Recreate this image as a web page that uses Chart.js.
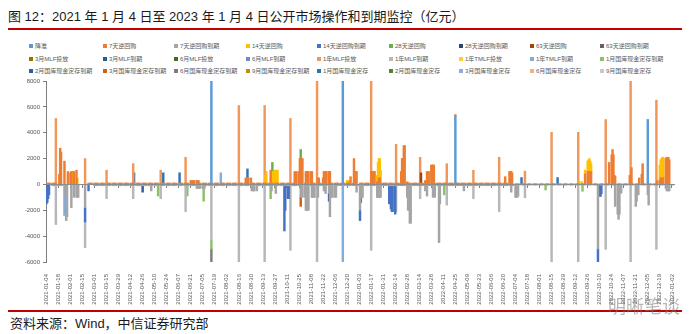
<!DOCTYPE html>
<html>
<head>
<meta charset="utf-8">
<script src="https://cdn.jsdelivr.net/npm/chart.js@4.4.1/dist/chart.umd.min.js"></script>
<style>
  body { margin: 0; background: #fff; }
  #wrap { position: relative; width: 700px; height: 334px; overflow: hidden; font-family: "Liberation Sans", "Noto Sans CJK SC", sans-serif; }
  #title { position: absolute; left: 8px; top: 9px; font-size: 13px; line-height: 15px; color: #1a1a1a; white-space: nowrap; }
  .rule { position: absolute; left: 8px; width: 674px; height: 2px; background: #c00000; }
  .item { position: absolute; font-size: 6px; line-height: 8px; color: #595959; white-space: nowrap; }
  .item i { display: inline-block; width: 4px; height: 4px; margin-right: 2px; vertical-align: 0; }
  #chart { position: absolute; left: 0; top: 74px; }
  #source { position: absolute; left: 10px; top: 316px; font-size: 13px; line-height: 15px; color: #1a1a1a; white-space: nowrap; }
  #mark { position: absolute; left: 608px; top: 292px; font-size: 18px; color: rgba(120,120,120,0.55); white-space: nowrap; }
</style>
</head>
<body>
<div id="wrap">
  <div id="title">图 12：2021 年 1 月 4 日至 2023 年 1 月 4 日公开市场操作和到期监控（亿元）</div>
  <div class="rule" style="top:28px"></div>
  <div id="legend"></div>
  <canvas id="chart" width="700" height="234"></canvas>
  <div class="rule" style="top:310px"></div>
  <div id="source">资料来源：Wind，中信证券研究部</div>
  <div id="mark">明晰笔谈</div>
</div>
<script>
// series, in legend order
const seriesNames = [
  '降准', '7天逆回购', '7天逆回购到期', '14天逆回购', '14天逆回购到期', '28天逆回购', '28天逆回购到期', '63天逆回购', '63天逆回购到期',
  '3月MLF投放', '3月MLF到期', '6月MLF投放', '6月MLF到期', '1年MLF投放', '1年MLF到期', '1年TMLF投放', '1年TMLF到期', '1月国库现金定存到期',
  '2月国库现金定存到期', '3月国库现金定存到期', '6月国库现金定存到期', '9月国库现金定存到期', '1月国库现金定存', '2月国库现金定存', '3月国库现金定存', '6月国库现金定存', '9月国库现金定存'
];
const seriesColors = [
  '#5B9BD5', '#ED7D31', '#A5A5A5', '#FFC000', '#4472C4', '#70AD47', '#264478', '#9E480E', '#636363',
  '#997300', '#255E91', '#43682B', '#698ED0', '#F1975A', '#B7B7B7', '#FFCD33', '#7CAFDD', '#8CC168',
  '#335AA1', '#D26012', '#7C7C7C', '#BF9000', '#2E75B6', '#548235', '#8FAADC', '#F4B183', '#C9C9C9'
];

// ordinary daily 7-day operations on trading days: [from, to, amount]
const repo7Runs = [
  ['2021-01-04', '2021-01-15', 100], ['2021-02-22', '2021-12-31', 100], ['2022-01-04', '2022-06-30', 100],
  ['2022-07-01', '2022-09-16', 30], ['2022-09-19', '2022-12-30', 20]
];
const repo7MatRuns = [
  ['2021-01-11', '2021-01-22', -100], ['2021-03-01', '2022-01-07', -100], ['2022-01-10', '2022-07-07', -100],
  ['2022-07-08', '2022-09-23', -30], ['2022-09-26', '2023-01-04', -20]
];

const rrrCut = [['2021-07-15', 10000], ['2021-12-15', 12000], ['2022-04-25', 5300], ['2022-12-05', 5000]];

const repo7 = [
  ['2021-01-19', 800], ['2021-01-20', 2800], ['2021-01-21', 2500], ['2021-01-25', 1800], ['2021-01-29', 1000],
  ['2021-02-01', 900], ['2021-02-02', 1000], ['2021-02-05', 1000], ['2021-02-08', 1100],
  ['2021-06-21', 300], ['2021-06-22', 300], ['2021-06-23', 300], ['2021-06-24', 300], ['2021-06-25', 300],
  ['2021-06-28', 300], ['2021-06-29', 300], ['2021-06-30', 300],
  ['2021-08-24', 500], ['2021-08-25', 500], ['2021-08-26', 500], ['2021-08-27', 500], ['2021-08-30', 500],
  ['2021-09-22', 1100], ['2021-10-20', 1000], ['2021-10-22', 1000], ['2021-10-25', 1000],
  ['2021-10-26', 2000], ['2021-10-27', 2000], ['2021-10-28', 2000], ['2021-10-29', 2000],
  ['2021-11-02', 1000], ['2021-11-03', 1000], ['2021-11-04', 1000], ['2021-11-05', 1000], ['2021-11-08', 1000], ['2021-11-09', 1000],
  ['2021-11-16', 500], ['2021-11-17', 500], ['2021-11-22', 500],
  ['2021-11-23', 1000], ['2021-11-24', 1000], ['2021-11-25', 1000], ['2021-11-26', 1000], ['2021-11-29', 1000], ['2021-11-30', 1000],
  ['2021-12-24', 600], ['2021-12-28', 2000], ['2021-12-29', 1000], ['2021-12-30', 1000], ['2021-12-31', 1000],
  ['2022-01-17', 1000], ['2022-01-18', 1000], ['2022-01-19', 1000], ['2022-01-20', 1000], ['2022-01-21', 1000],
  ['2022-01-24', 200], ['2022-01-25', 200], ['2022-01-26', 500], ['2022-01-27', 500],
  ['2022-02-21', 1000], ['2022-02-22', 2000], ['2022-02-23', 2000], ['2022-02-24', 3000], ['2022-02-25', 3000], ['2022-02-28', 200],
  ['2022-03-21', 300], ['2022-03-22', 200], ['2022-03-23', 1000], ['2022-03-25', 1000],
  ['2022-03-28', 1500], ['2022-03-29', 1500], ['2022-03-30', 1500], ['2022-03-31', 1500],
  ['2022-06-22', 600], ['2022-06-27', 1000], ['2022-06-28', 1000], ['2022-06-29', 1000], ['2022-06-30', 900],
  ['2022-09-23', 800], ['2022-09-26', 1000], ['2022-09-27', 1000], ['2022-09-28', 1000], ['2022-09-29', 1000], ['2022-09-30', 1000],
  ['2022-10-21', 1700], ['2022-10-24', 2300], ['2022-10-25', 2700], ['2022-10-26', 2300], ['2022-10-27', 700], ['2022-10-28', 650],
  ['2022-11-14', 700], ['2022-11-16', 1300], ['2022-11-25', 500], ['2022-11-28', 800], ['2022-11-29', 1600],
  ['2022-12-16', 300], ['2022-12-19', 300], ['2022-12-20', 500], ['2022-12-21', 500], ['2022-12-22', 500], ['2022-12-23', 500],
  ['2022-12-26', 2000], ['2022-12-27', 2100], ['2022-12-28', 2000], ['2022-12-29', 2100], ['2022-12-30', 1900]
];
const repo7Mat = [
  ['2021-01-26', -800], ['2021-01-27', -2800], ['2021-01-28', -2500], ['2021-02-02', -1800],
  ['2021-02-05', -1000], ['2021-02-08', -1000], ['2021-02-09', -1000], ['2021-02-10', -1000], ['2021-02-18', -1800],
  ['2021-05-06', -500],
  ['2021-06-28', -300], ['2021-06-29', -300], ['2021-06-30', -300], ['2021-07-01', -300], ['2021-07-02', -300],
  ['2021-07-05', -300], ['2021-07-06', -300], ['2021-07-07', -300],
  ['2021-08-31', -500], ['2021-09-01', -500], ['2021-09-02', -500], ['2021-09-03', -500], ['2021-09-06', -500],
  ['2021-09-23', -500], ['2021-09-28', -700], ['2021-10-27', -1000], ['2021-10-29', -1000],
  ['2021-11-01', -1000], ['2021-11-02', -2000], ['2021-11-03', -2000], ['2021-11-04', -2000], ['2021-11-05', -2000],
  ['2021-11-09', -1000], ['2021-11-10', -1000], ['2021-11-11', -1000], ['2021-11-12', -1000], ['2021-11-16', -1000],
  ['2021-11-23', -500], ['2021-11-24', -500], ['2021-11-25', -700], ['2021-11-29', -700], ['2021-11-30', -2500],
  ['2021-12-01', -1000], ['2021-12-02', -1000], ['2021-12-03', -1000], ['2021-12-06', -1000], ['2021-12-07', -1000],
  ['2021-12-31', -600], ['2022-01-04', -2000], ['2022-01-05', -1000], ['2022-01-06', -1000], ['2022-01-07', -1000],
  ['2022-01-24', -1000], ['2022-01-25', -1000], ['2022-01-26', -1000], ['2022-01-27', -1000], ['2022-01-28', -1000],
  ['2022-02-28', -1000], ['2022-03-01', -2000], ['2022-03-02', -2000], ['2022-03-03', -3000], ['2022-03-04', -3000],
  ['2022-03-21', -500], ['2022-03-23', -900], ['2022-03-30', -1000], ['2022-04-01', -1000], ['2022-04-06', -4500], ['2022-04-07', -1500],
  ['2022-05-05', -500], ['2022-06-29', -600],
  ['2022-07-04', -1000], ['2022-07-05', -1000], ['2022-07-06', -1000], ['2022-07-07', -900],
  ['2022-10-08', -5000], ['2022-10-28', -1700], ['2022-10-31', -2300], ['2022-11-01', -2700], ['2022-11-02', -2300],
  ['2022-11-03', -700], ['2022-11-04', -650], ['2022-11-21', -1700], ['2022-11-22', -1300], ['2022-11-24', -800],
  ['2022-12-05', -800], ['2022-12-06', -1600],
  ['2022-12-26', -300], ['2022-12-27', -500], ['2022-12-28', -500], ['2022-12-29', -500], ['2022-12-30', -500]
];
const repo14 = [
  ['2021-02-03', 1000], ['2021-02-04', 1000], ['2021-02-09', 500], ['2021-09-16', 600], ['2021-09-17', 900],
  ['2021-09-24', 900], ['2021-09-26', 1000], ['2021-09-27', 1000], ['2021-09-28', 1000], ['2021-09-29', 1000], ['2021-09-30', 1000],
  ['2021-12-20', 200], ['2021-12-21', 200], ['2021-12-22', 200],
  ['2022-01-24', 500], ['2022-01-25', 1500], ['2022-01-26', 1500], ['2022-01-27', 1500], ['2022-01-28', 1000],
  ['2022-09-16', 200], ['2022-09-19', 200], ['2022-09-23', 300], ['2022-09-26', 800], ['2022-09-27', 900],
  ['2022-09-28', 1000], ['2022-09-29', 800], ['2022-09-30', 600],
  ['2022-12-19', 1200], ['2022-12-20', 1400], ['2022-12-21', 1500], ['2022-12-22', 1600], ['2022-12-23', 1600]
];
const repo14Mat = [
  ['2021-01-04', -1500], ['2021-01-05', -1400], ['2021-01-06', -1100], ['2021-01-07', -800],
  ['2021-02-18', -1100], ['2021-02-22', -500],
  ['2021-10-08', -3500], ['2021-10-09', -2000], ['2021-10-12', -1000], ['2021-10-13', -1000],
  ['2022-01-04', -800], ['2022-01-05', -400],
  ['2022-02-07', -1400], ['2022-02-08', -1400], ['2022-02-09', -1800], ['2022-02-10', -2000], ['2022-02-11', -2000], ['2022-02-14', -2200],
  ['2022-10-08', -1500], ['2022-10-09', -800], ['2022-10-10', -900], ['2022-10-11', -900], ['2022-10-12', -700]
];
const repo28 = [['2021-09-24', 700], ['2021-10-27', 700]];
const repo63 = [['2022-03-16', 800]];
const mlf1yIn = [
  ['2021-01-15', 5000], ['2021-02-18', 2000], ['2021-03-15', 1000], ['2021-04-15', 1500], ['2021-05-17', 1000],
  ['2021-06-15', 2000], ['2021-07-15', 1000], ['2021-08-16', 6000], ['2021-09-15', 6000], ['2021-10-15', 5000],
  ['2021-11-15', 10000], ['2021-12-15', 5000], ['2022-01-17', 7000], ['2022-02-15', 3000], ['2022-03-15', 2000],
  ['2022-04-15', 1500], ['2022-05-16', 1000], ['2022-06-15', 2000], ['2022-07-15', 1000], ['2022-08-15', 4000],
  ['2022-09-15', 4000], ['2022-10-17', 5000], ['2022-11-15', 8500], ['2022-12-15', 6500]
];
const mlf1yOut = [
  ['2021-01-15', -3000], ['2021-02-18', -2000], ['2021-03-15', -1000], ['2021-04-15', -1000], ['2021-05-17', -1000],
  ['2021-06-15', -2000], ['2021-07-15', -4200], ['2021-08-16', -7000], ['2021-09-15', -6000], ['2021-10-15', -5000],
  ['2021-11-15', -10000], ['2022-01-17', -5000], ['2022-02-15', -2000], ['2022-03-15', -1000],
  ['2022-04-15', -1500], ['2022-05-16', -1000], ['2022-06-15', -2000], ['2022-07-15', -1000], ['2022-08-15', -6000],
  ['2022-09-15', -6000], ['2022-10-17', -5000], ['2022-11-15', -10000], ['2022-12-15', -5000]
];
const tmlfOut = [['2021-01-25', -2400], ['2021-12-15', -9500]];
const cash1mMat = [
  ['2021-05-14', -800], ['2021-06-17', -800], ['2021-07-06', -1000], ['2021-07-15', -700], ['2021-09-22', -1000],
  ['2022-04-12', -700], ['2022-08-08', -400], ['2022-09-20', -500]
];
const cash2mMat = [['2021-04-26', -500], ['2021-11-29', -600]];
const cash3mMat = [['2021-10-27', -700]];
const cash6mMat = [['2021-07-15', -1200]];
const cash1m = [
  ['2021-04-16', 800], ['2021-05-20', 800], ['2021-06-08', 800], ['2021-08-26', 700], ['2022-07-11', 500], ['2022-08-22', 500]
];
const cash3m = [['2021-07-26', 800]];

const seriesEvents = [
  rrrCut, repo7, repo7Mat, repo14, repo14Mat, repo28, [], repo63, [],
  [], [], [], [], mlf1yIn, mlf1yOut, [], tmlfOut, cash1mMat,
  cash2mMat, cash3mMat, cash6mMat, [], cash1m, [], cash3m, [], []
];
const seriesRuns = { 1: repo7Runs, 2: repo7MatRuns };

// one category per calendar day, 2021-01-04 .. 2023-01-04
const DAY = 86400000;
const start = Date.UTC(2021, 0, 4);
const dates = [];
for (let t = start; t <= Date.UTC(2023, 0, 4); t += DAY) dates.push(new Date(t).toISOString().slice(0, 10));
const dayIndex = s => Math.round((Date.parse(s) - start) / DAY);

function buildSeries(events, runs) {
  const values = new Array(dates.length).fill(null);
  (runs || []).forEach(([from, to, v]) => {
    for (let i = dayIndex(from); i <= dayIndex(to); i++) {
      const wd = new Date(start + i * DAY).getUTCDay();
      if (wd >= 1 && wd <= 5) values[i] = v;
    }
  });
  events.forEach(([d, v]) => { values[dayIndex(d)] = v; });
  return values;
}

// legend: 9 columns x 3 rows
const legendCols = [29, 103, 174, 246, 317, 389, 459, 530, 600];
const legendRows = [42, 55, 67];
const legendBox = document.getElementById('legend');
seriesNames.forEach((name, k) => {
  const el = document.createElement('div');
  el.className = 'item';
  el.style.left = legendCols[k % 9] + 'px';
  el.style.top = legendRows[Math.floor(k / 9)] + 'px';
  el.innerHTML = '<i style="background:' + seriesColors[k] + '"></i>' + name;
  legendBox.appendChild(el);
});

const axisFont = { size: 6, family: '"Liberation Sans", Arial, sans-serif' };

new Chart(document.getElementById('chart'), {
  type: 'bar',
  data: {
    labels: dates,
    datasets: seriesNames.map((name, k) => ({
      label: name,
      data: buildSeries(seriesEvents[k], seriesRuns[k]),
      backgroundColor: seriesColors[k],
      borderWidth: 0,
      barThickness: 1.8
    }))
  },
  options: {
    responsive: false,
    animation: false,
    devicePixelRatio: 1,
    layout: { padding: { top: 7, left: 2, right: 26, bottom: 0 } },
    plugins: { legend: { display: false }, tooltip: { enabled: false } },
    scales: {
      x: {
        stacked: true,
        grid: { display: false },
        border: { display: false },
        ticks: {
          autoSkip: false, minRotation: 90, maxRotation: 90, padding: 4,
          color: '#595959', font: axisFont,
          callback: (v, i) => (i % 14 === 0 ? dates[i] : '')
        },
        afterFit: s => { s.height = 46; }
      },
      // zero line with tick marks every two weeks
      xZero: {
        type: 'category', axis: 'x', position: { y: 0 }, offset: true,
        ticks: { display: false },
        grid: {
          drawOnChartArea: false, offset: false, tickLength: 3,
          color: c => (c.index % 14 === 0 ? '#7f7f7f' : 'rgba(0,0,0,0)')
        },
        border: { display: true, color: '#8c8c8c', z: 1 }
      },
      y: {
        stacked: true, min: -6000, max: 8000,
        ticks: { stepSize: 2000, padding: 3, color: '#595959', font: axisFont, callback: v => String(v) },
        grid: { color: 'rgba(0,0,0,0)', tickColor: '#7f7f7f', tickLength: 3 },
        border: { color: '#7f7f7f' },
        afterFit: s => { s.width = 44; }
      }
    }
  }
});
</script>
</body>
</html>
